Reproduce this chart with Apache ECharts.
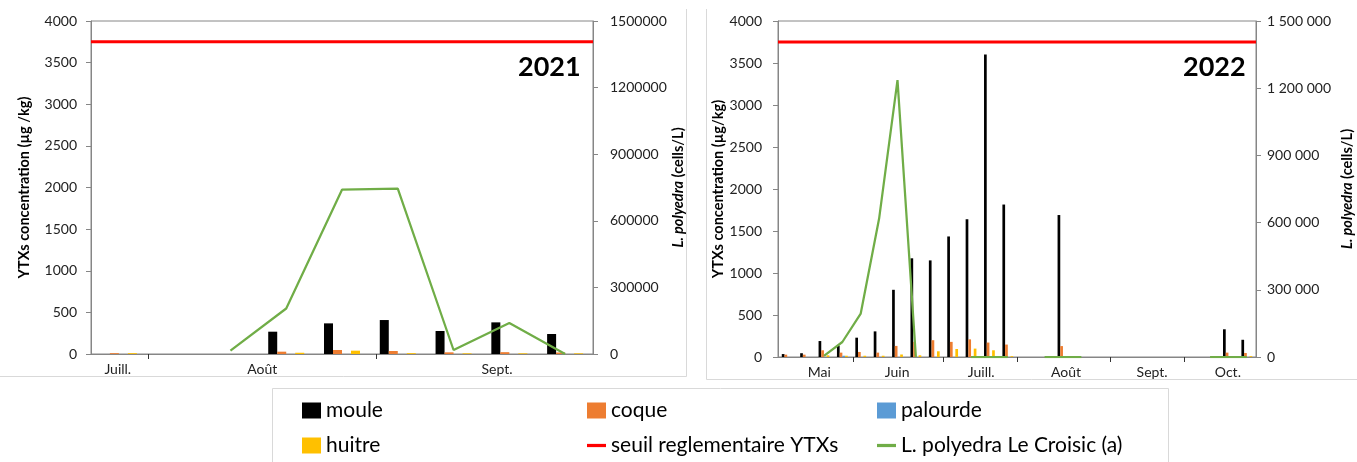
<!DOCTYPE html>
<html><head><meta charset="utf-8">
<script src="https://cdn.jsdelivr.net/npm/echarts@6/dist/echarts.min.js"></script>
<style>html,body{margin:0;padding:0;background:#fff}#c{width:1357px;height:462px}</style>
</head><body><div id="c"></div>
<script>
// ---------- 2021 ----------
const cats2021 = ['s1','s2','s3','s4','s5','s6','s7','s8','s9'];
const moule2021    = ['-', '-', '-', 268, 368, 408, 276, 380, 240];
const coque2021    = [10, '-', '-', 28, 48, 36, 20, 22, 18];
const palourde2021 = ['-', '-', '-', '-', '-', '-', '-', '-', '-'];
const huitre2021   = [10, '-', '-', 15, 40, 10, 8, 8, 8];
const lpoly2021    = ['-', '-', 15000, 205000, 740000, 745000, 18000, 140000, 0];
const monthNames2021 = ['Juill.', 'Août', 'Sept.'];
const monthLabelPos2021 = [0.48, 3.07, 7.28];   // in sample-slot units
const monthTicks2021 = [1.02, 5.11];

// ---------- 2022 ----------
const cats2022 = Array.from({length: 26}, (_, i) => 's' + (i + 1));
const moule2022    = [35, 45, 190, 135, 230, 305, 800, 1175, 1150, 1435, 1640, 3600, 1815, '-', '-', 1690, '-', '-', '-', '-', '-', '-', '-', '-', 330, 205];
const coque2022    = [28, 28, 80, 52, 60, 52, 132, 180, 200, 180, 210, 172, 148, '-', '-', 130, '-', '-', '-', '-', '-', '-', '-', '-', 52, 48];
const palourde2022 = ['-', '-', '-', 15, '-', '-', '-', '-', '-', '-', '-', '-', '-', '-', '-', '-', '-', '-', '-', '-', '-', '-', '-', '-', '-', '-'];
const huitre2022   = ['-', '-', 20, 15, 15, 15, 30, 20, 68, 95, 100, 80, 10, '-', '-', 5, '-', '-', '-', '-', '-', '-', '-', '-', 5, 10];
const lpoly2022    = ['-', '-', 5000, 67000, 194000, 618000, 1236000, 0, '-', '-', 0, 0, 0, '-', 0, 0, 0, '-', '-', '-', '-', '-', '-', 0, 0, 0];
const monthNames2022 = ['Mai', 'Juin', 'Juill.', 'Août', 'Sept.', 'Oct.'];
const monthLabelPos2022 = [2.24, 6.48, 11.05, 15.67, 20.35, 24.47];
const monthTicks2022 = [4.1, 9.0, 13.0, 18.05, 22.1];

const threshold = 3750;

const FONT = 'Lato';
const AXIS = '#868686';
const LBL = '#222';
const C = {moule: '#000000', coque: '#ED7D31', palourde: '#5B9BD5', huitre: '#FFC000', seuil: '#FF0000', lp: '#70AD47'};
const LINE_ICON = 'path://M0,0H20V3.4H0Z';

function spaced(v) { return String(v).replace(/\B(?=(\d{3})+(?!\d))/g, ' '); }

function monthAxis(gridIndex, n, ticks, labelPos, names) {
  return {
    type: 'value', gridIndex, position: 'bottom', min: 0, max: n,
    axisLine: {show: true, onZero: false, lineStyle: {color: AXIS, width: 1}},
    axisTick: {show: true, customValues: ticks, length: 5, lineStyle: {color: '#333', width: 1}},
    axisLabel: {show: true, customValues: labelPos, margin: 8, color: LBL, fontFamily: FONT, fontSize: 14,
      formatter: v => { const i = labelPos.findIndex(p => Math.abs(p - v) < 1e-6); return i >= 0 ? names[i] : ''; }},
    splitLine: {show: false}
  };
}
function catAxis(gridIndex, data) {
  return {type: 'category', gridIndex, data, show: false, boundaryGap: true};
}
function leftAxis(gridIndex, name, gap, margin) {
  return {
    type: 'value', gridIndex, position: 'left', min: 0, max: 4000, interval: 500,
    name, nameLocation: 'middle', nameGap: gap,
    nameTextStyle: {fontFamily: FONT, fontSize: 14.5, fontWeight: 'bold', color: '#000'},
    axisLine: {show: true, lineStyle: {color: AXIS}},
    axisTick: {show: true, length: 5, lineStyle: {color: AXIS}},
    axisLabel: {margin, color: LBL, fontFamily: FONT, fontSize: 14, formatter: v => String(v)},
    splitLine: {show: false}
  };
}
function rightAxis(gridIndex, gap, margin, fmt) {
  const base = {fontFamily: FONT, fontSize: 14.5, fontWeight: 'bold', color: '#000'};
  return {
    type: 'value', gridIndex, position: 'right', min: 0, max: 1500000, interval: 300000,
    name: '{i|L. polyedra} {b|(cells/L)}', nameLocation: 'middle', nameGap: gap,
    nameTextStyle: Object.assign({}, base, {rich: {i: Object.assign({}, base, {fontStyle: 'italic'}), b: Object.assign({}, base)}}),
    axisLine: {show: true, lineStyle: {color: AXIS}},
    axisTick: {show: true, length: 5, lineStyle: {color: AXIS}},
    axisLabel: {margin, color: LBL, fontFamily: FONT, fontSize: 14, formatter: fmt},
    splitLine: {show: false}
  };
}
function bars(xi, yi, w, arrs) {
  return ['moule', 'coque', 'palourde', 'huitre'].map((nm, k) => ({
    type: 'bar', name: nm, xAxisIndex: xi, yAxisIndex: yi, data: arrs[k],
    barWidth: w, barGap: '0%', itemStyle: {color: C[nm]}, z: 2
  }));
}
function seuil(xi, yi, n) {
  return {type: 'line', name: 'seuil reglementaire YTXs', xAxisIndex: xi, yAxisIndex: yi,
    data: [[0, threshold], [n, threshold]], symbol: 'none', showSymbol: false, lineStyle: {color: C.seuil, width: 3},
    itemStyle: {color: C.seuil}, z: 4};
}
function lpoly(xi, yi, data) {
  return {type: 'line', name: 'L. polyedra Le Croisic (a)', xAxisIndex: xi, yAxisIndex: yi, data,
    symbol: 'none', showSymbol: false, connectNulls: false, lineStyle: {color: C.lp, width: 2.25}, itemStyle: {color: C.lp}, z: 3};
}

const legendBase = {orient: 'vertical', top: 400, padding: 0, itemGap: 14, itemWidth: 19, itemHeight: 16, selectedMode: false,
  symbolKeepAspect: true,
  textStyle: {fontFamily: FONT, fontSize: 21, color: '#000', lineHeight: 20}};

const chart = echarts.init(document.getElementById('c'), null, {renderer: 'canvas'});
chart.setOption({
  animation: false,
  backgroundColor: '#fff',
  grid: [
    {left: 91, top: 21, width: 502, height: 333, show: true, borderColor: AXIS, borderWidth: 1, backgroundColor: 'transparent'},
    {left: 778, top: 21, width: 478, height: 336, show: true, borderColor: AXIS, borderWidth: 1, backgroundColor: 'transparent'}
  ],
  xAxis: [
    catAxis(0, cats2021),
    monthAxis(0, cats2021.length, monthTicks2021, monthLabelPos2021, monthNames2021),
    catAxis(1, cats2022),
    monthAxis(1, cats2022.length, monthTicks2022, monthLabelPos2022, monthNames2022)
  ],
  yAxis: [
    leftAxis(0, 'YTXs concentration (µg /kg)', 59, 14),
    rightAxis(0, 76, 17, v => String(v)),
    leftAxis(1, 'YTXs concentration (µg/kg)', 51, 16),
    rightAxis(1, 84, 11, spaced)
  ],
  legend: [
    Object.assign({}, legendBase, {left: 302, data: [{name: 'moule', icon: 'rect'}, {name: 'huitre', icon: 'rect'}]}),
    Object.assign({}, legendBase, {left: 587, data: [{name: 'coque', icon: 'rect'}, {name: 'seuil reglementaire YTXs', icon: LINE_ICON}]}),
    Object.assign({}, legendBase, {left: 877, data: [{name: 'palourde', icon: 'rect'}, {name: 'L. polyedra Le Croisic (a)', icon: LINE_ICON}]})
  ],
  graphic: [
    {type: 'line', silent: true, shape: {x1: 0, y1: 376.5, x2: 686.5, y2: 376.5}, style: {stroke: '#d9d9d9', lineWidth: 1}},
    {type: 'line', silent: true, shape: {x1: 686.5, y1: 9, x2: 686.5, y2: 376.5}, style: {stroke: '#d9d9d9', lineWidth: 1}},
    {type: 'line', silent: true, shape: {x1: 706.5, y1: 9, x2: 706.5, y2: 379.5}, style: {stroke: '#d9d9d9', lineWidth: 1}},
    {type: 'line', silent: true, shape: {x1: 706.5, y1: 379.5, x2: 1357, y2: 379.5}, style: {stroke: '#d9d9d9', lineWidth: 1}},
    {type: 'rect', silent: true, shape: {x: 272.5, y: 388.5, width: 896, height: 90}, style: {fill: 'none', stroke: '#d9d9d9', lineWidth: 1}},
    {type: 'text', silent: true, style: {x: 518, y: 67, text: '2021', fontFamily: FONT, fontWeight: 'bold', fontSize: 27, fill: '#000', textVerticalAlign: 'middle'}},
    {type: 'text', silent: true, style: {x: 1183, y: 67, text: '2022', fontFamily: FONT, fontWeight: 'bold', fontSize: 27, fill: '#000', textVerticalAlign: 'middle'}}
  ],
  series: [
    ...bars(0, 0, 9, [moule2021, coque2021, palourde2021, huitre2021]),
    seuil(1, 0, cats2021.length),
    lpoly(0, 1, lpoly2021),
    ...bars(2, 2, 2.7, [moule2022, coque2022, palourde2022, huitre2022]),
    seuil(3, 2, cats2022.length),
    lpoly(2, 3, lpoly2022)
  ]
});
</script></body></html>
